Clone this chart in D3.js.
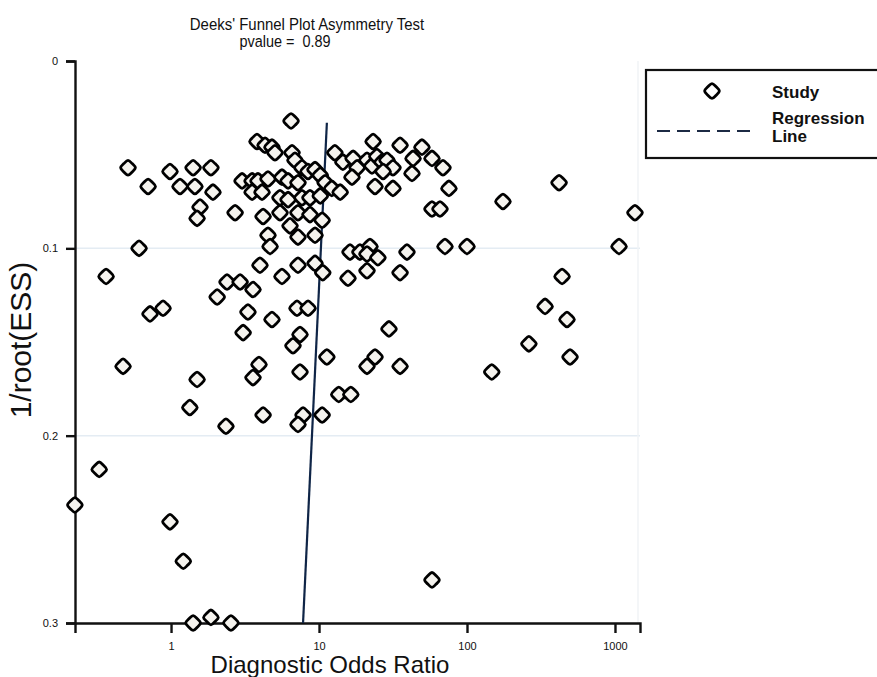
<!DOCTYPE html>
<html>
<head>
<meta charset="utf-8">
<script src="https://d3js.org/d3.v7.min.js"></script>
<style>
  body { margin: 0; background: #fff; }
  svg text { font-family: "Liberation Sans", Arial, sans-serif; fill: #111; }
</style>
</head>
<body>
<div id="chart"></div>
<script>
// Study points: diagnostic odds ratio and 1/root(ESS)
const studyDOR = [
  6.47, 3.81, 4.32, 4.81, 5.04, 6.57, 6.88, 7.67, 8.43, 9.40,
  10.2, 3.02, 3.53, 3.87, 4.52, 3.53, 4.12, 5.62, 6.18, 7.21,
  11.0, 12.2, 13.9, 5.45, 6.18, 7.67, 8.69, 10.2, 2.71, 4.19,
  5.45, 7.21, 8.69, 10.5, 6.37, 7.21, 9.40, 4.52, 4.67, 12.8,
  14.5, 17.0, 18.1, 16.7, 21.1, 22.8, 24.6, 26.7, 28.8, 31.6,
  27.1, 23.2, 35.3, 49.6, 43.2, 58.0, 68.8, 42.5, 23.9, 31.6,
  75.5, 58.0, 65.7, 175, 419, 1365, 1065, 100, 71.0, 439,
  16.2, 18.9, 22.1, 21.1, 25.0, 21.1, 15.7, 39.3, 35.3, 3.99,
  5.62, 7.21, 9.40, 10.6, 2.39, 2.93, 3.58, 2.05, 0.512, 0.700,
  0.984, 1.15, 1.41, 1.45, 1.86, 1.92, 1.57, 1.50, 0.608, 0.364,
  0.721, 0.883, 3.31, 4.81, 7.10, 8.43, 3.07, 7.44, 6.67, 0.474,
  3.93, 3.58, 7.44, 11.3, 1.50, 1.34, 2.35, 4.19, 7.80, 7.21,
  10.5, 29.7, 337, 474, 262, 497, 147, 23.9, 21.1, 35.3,
  13.6, 16.4, 0.327, 0.224, 0.984, 1.21, 58.0, 1.41, 1.86, 2.54
];
const studyInvRootESS = [
  0.032, 0.043, 0.045, 0.046, 0.049, 0.049, 0.053, 0.057, 0.059, 0.058,
  0.061, 0.064, 0.064, 0.064, 0.063, 0.070, 0.070, 0.062, 0.064, 0.065,
  0.065, 0.068, 0.070, 0.073, 0.074, 0.073, 0.073, 0.072, 0.081, 0.083,
  0.081, 0.081, 0.082, 0.085, 0.088, 0.094, 0.093, 0.093, 0.099, 0.049,
  0.054, 0.052, 0.057, 0.062, 0.053, 0.056, 0.051, 0.054, 0.053, 0.057,
  0.059, 0.043, 0.045, 0.046, 0.052, 0.052, 0.057, 0.060, 0.067, 0.068,
  0.068, 0.079, 0.079, 0.075, 0.065, 0.081, 0.099, 0.099, 0.099, 0.115,
  0.102, 0.102, 0.099, 0.103, 0.105, 0.112, 0.116, 0.102, 0.113, 0.109,
  0.115, 0.109, 0.108, 0.113, 0.118, 0.118, 0.122, 0.126, 0.057, 0.067,
  0.059, 0.067, 0.057, 0.067, 0.057, 0.070, 0.078, 0.084, 0.100, 0.115,
  0.135, 0.132, 0.134, 0.138, 0.132, 0.132, 0.145, 0.146, 0.152, 0.163,
  0.162, 0.169, 0.166, 0.158, 0.170, 0.185, 0.195, 0.189, 0.189, 0.194,
  0.189, 0.143, 0.131, 0.138, 0.151, 0.158, 0.166, 0.158, 0.163, 0.163,
  0.178, 0.178, 0.218, 0.237, 0.246, 0.267, 0.277, 0.300, 0.297, 0.300
];

// Regression line end points
const regInvRootESS = [0.033, 0.300];
const regDOR = [11.3, 7.8];

const xTicks = [1, 10, 100, 1000];
const yTicks = [0, 0.1, 0.2, 0.3];
const gridTicks = [0.1, 0.2];

const width = 877, height = 677;
const plotLeft = 75, plotRight = 640, plotTop = 61, plotBottom = 623;

const svg = d3.select("#chart").append("svg")
  .attr("width", width)
  .attr("height", height);

const x = d3.scaleLog().domain([0.2244, 1476]).range([plotLeft, plotRight]);
const y = d3.scaleLinear().domain([0, 0.3]).range([plotTop, plotBottom]);

// faint grid lines
svg.selectAll(".grid")
  .data(gridTicks)
  .enter().append("line")
  .attr("x1", plotLeft).attr("x2", plotRight)
  .attr("y1", d => y(d)).attr("y2", d => y(d))
  .attr("stroke", "#e4ecf3")
  .attr("stroke-width", 1.5);

svg.append("line")
  .attr("x1", plotRight - 2).attr("x2", plotRight - 2)
  .attr("y1", plotTop).attr("y2", plotBottom)
  .attr("stroke", "#f0f3f6")
  .attr("stroke-width", 1.5);

// axes
const yAxis = svg.append("g")
  .attr("transform", `translate(${plotLeft},0)`)
  .call(d3.axisLeft(y).tickValues(yTicks).tickSize(9).tickPadding(8)
    .tickFormat(d => d === 0 ? "0" : d3.format(".1f")(d)));

const xAxis = svg.append("g")
  .attr("transform", `translate(0,${plotBottom})`)
  .call(d3.axisBottom(x).tickValues(xTicks).tickSize(10).tickPadding(9)
    .tickFormat(d3.format("d")));

[xAxis, yAxis].forEach(g => {
  g.select(".domain").attr("stroke", "#111").attr("stroke-width", 2.4);
  g.selectAll(".tick line").attr("stroke", "#111").attr("stroke-width", 2.4);
  g.selectAll(".tick text")
    .attr("font-size", 11)
    .attr("font-family", "Liberation Sans, Arial, sans-serif")
    .attr("fill", "#222");
});

// regression line
svg.append("line")
  .attr("x1", x(regDOR[0])).attr("y1", y(regInvRootESS[0]))
  .attr("x2", x(regDOR[1])).attr("y2", y(regInvRootESS[1]))
  .attr("stroke", "#0f2547")
  .attr("stroke-width", 2.2);

// study markers: rounded diamond (between a circle and a diamond)
const markerPath = d3.lineRadial()
  .angle(d => d[0])
  .radius(d => d[1])
  .curve(d3.curveCatmullRomClosed)(
    d3.range(8).map(i => [i * Math.PI / 4, i % 2 === 0 ? 7.4 : 5.9])
  );
const points = d3.range(studyDOR.length).map(i => [studyDOR[i], studyInvRootESS[i]]);

svg.append("g").selectAll("path")
  .data(points)
  .enter().append("path")
  .attr("d", markerPath)
  .attr("transform", d => `translate(${x(d[0])},${y(d[1])})`)
  .attr("fill", "#f5f3ee")
  .attr("stroke", "#000")
  .attr("stroke-width", 2.8);

// titles
svg.append("text")
  .attr("x", 307).attr("y", 30)
  .attr("text-anchor", "middle")
  .attr("font-size", 17)
  .attr("transform", "translate(307,0) scale(0.88,1) translate(-307,0)")
  .text("Deeks' Funnel Plot Asymmetry Test");

svg.append("text")
  .attr("x", 285).attr("y", 47)
  .attr("text-anchor", "middle")
  .attr("font-size", 17)
  .attr("transform", "translate(285,0) scale(0.85,1) translate(-285,0)")
  .style("white-space", "pre")
  .text("pvalue =  0.89");

svg.append("text")
  .attr("x", 330).attr("y", 673)
  .attr("text-anchor", "middle")
  .attr("font-size", 24)
  .text("Diagnostic Odds Ratio");

svg.append("text")
  .attr("transform", "translate(31,340) rotate(-90)")
  .attr("text-anchor", "middle")
  .attr("font-size", 30)
  .text("1/root(ESS)");

// legend
const legend = svg.append("g");
legend.append("rect")
  .attr("x", 646).attr("y", 70)
  .attr("width", 260).attr("height", 88)
  .attr("fill", "#fff")
  .attr("stroke", "#111")
  .attr("stroke-width", 2.2);

legend.append("path")
  .attr("d", markerPath)
  .attr("transform", "translate(712,91)")
  .attr("fill", "#fff")
  .attr("stroke", "#000")
  .attr("stroke-width", 2.8);

legend.append("line")
  .attr("x1", 657).attr("x2", 757)
  .attr("y1", 131).attr("y2", 131)
  .attr("stroke", "#1c2a44")
  .attr("stroke-width", 2)
  .attr("stroke-dasharray", "13,7");

const legendLabels = [["Study", 98], ["Regression", 124], ["Line", 142]];
legend.selectAll(".lbl")
  .data(legendLabels)
  .enter().append("text")
  .attr("x", 772)
  .attr("y", d => d[1])
  .attr("font-size", 17)
  .attr("font-weight", "bold")
  .text(d => d[0]);
</script>
</body>
</html>
